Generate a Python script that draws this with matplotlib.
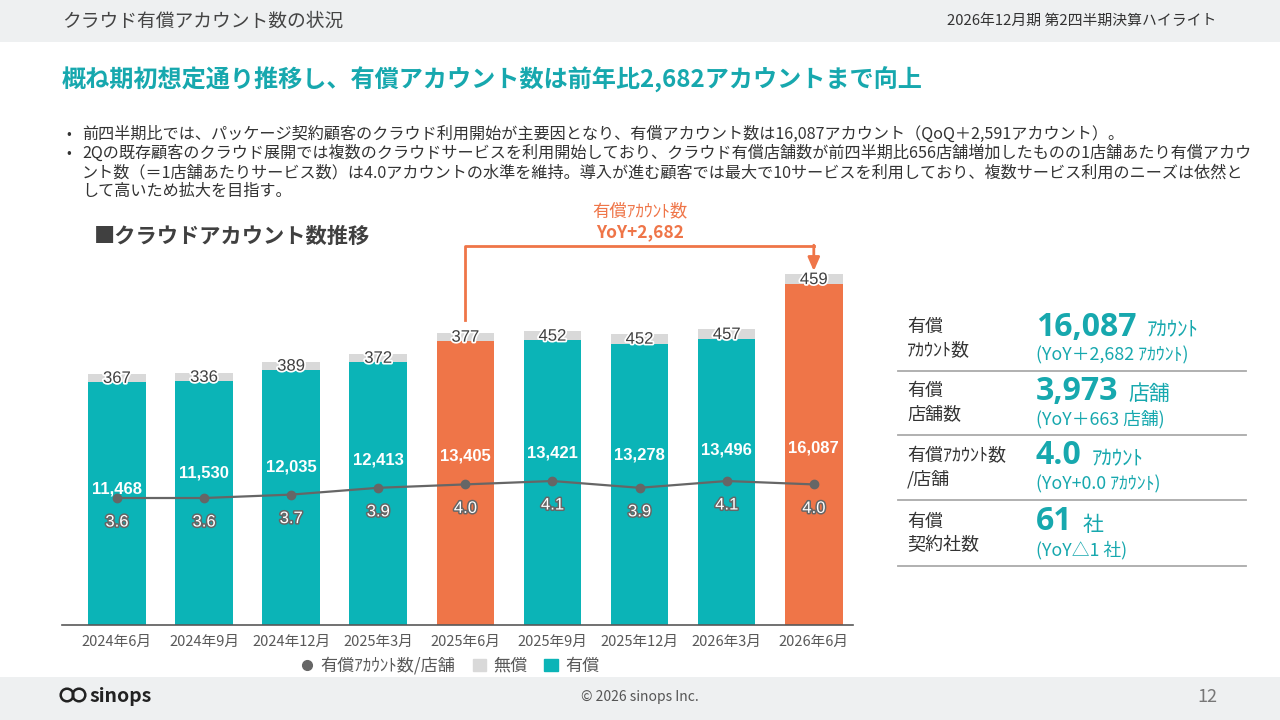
import numpy as np
import matplotlib
matplotlib.use('Agg')
import matplotlib.pyplot as plt
import matplotlib.patheffects as pe
from matplotlib.patches import Rectangle, Circle
from matplotlib.lines import Line2D

plt.rcParams['font.family'] = ['Noto Sans CJK JP', 'DejaVu Sans']

# data
periods = ['2024年6月', '2024年9月', '2024年12月', '2025年3月', '2025年6月',
           '2025年9月', '2025年12月', '2026年3月', '2026年6月']
paid = [11468, 11530, 12035, 12413, 13405, 13421, 13278, 13496, 16087]
free = [367, 336, 389, 372, 377, 452, 452, 457, 459]
per_store = [3.6, 3.6, 3.7, 3.9, 4.0, 4.1, 3.9, 4.1, 4.0]
highlight = [4, 8]
# manual label lift above the line marker (px), as laid out on the slide
paid_lbl_dy = [9, 25, 28, 28, 28, 28, 33, 31, 36]

kpi_labels = [('有償', 'ｱｶｳﾝﾄ数'), ('有償', '店舗数'), ('有償ｱｶｳﾝﾄ数', '/店舗'), ('有償', '契約社数')]
kpi_values = ['16,087', '3,973', '4.0', '61']
kpi_units = ['ｱｶｳﾝﾄ', '店舗', 'ｱｶｳﾝﾄ', '社']
kpi_subs = ['(YoY＋2,682 ｱｶｳﾝﾄ)', '(YoY＋663 店舗)', '(YoY+0.0 ｱｶｳﾝﾄ)', '(YoY△1 社)']

bullets = [
  ['前四半期比では、パッケージ契約顧客のクラウド利用開始が主要因となり、有償アカウント数は16,087アカウント（QoQ＋2,591アカウント）。'],
  ['2Qの既存顧客のクラウド展開では複数のクラウドサービスを利用開始しており、クラウド有償店舗数が前四半期比656店舗増加したものの1店舗あたり有償アカウ',
   'ント数（＝1店舗あたりサービス数）は4.0アカウントの水準を維持。導入が進む顧客では最大で10サービスを利用しており、複数サービス利用のニーズは依然と',
   'して高いため拡大を目指す。'],
]

TEAL = '#0BB4B7'
TEAL_TXT = '#17A8AE'
ORANGE = '#EF7548'
GRAY = '#D9D9D9'
DARK = '#404040'

W, H = 1280, 720
fig = plt.figure(figsize=(12.8, 7.2), dpi=100)

# background layer in pixel coordinates
bg = fig.add_axes([0, 0, 1, 1])
bg.set_xlim(0, W)
bg.set_ylim(H, 0)
bg.axis('off')
bg.add_patch(Rectangle((0, 0), W, 42, color='#EEF0F1', lw=0))
bg.add_patch(Rectangle((0, 677), W, 43, color='#EEF0F1', lw=0))

bg.text(62, 21, 'クラウド有償アカウント数の状況', fontsize=13.5, color='#444444', va='center')
bg.text(1216, 21, '2026年12月期 第2四半期決算ハイライト', fontsize=10.7, color='#333333',
        va='center', ha='right')
bg.text(62, 80, '概ね期初想定通り推移し、有償アカウント数は前年比2,682アカウントまで向上',
        fontsize=17.4, fontweight='bold', color=TEAL_TXT, va='center')

y = 134
for para in bullets:
  bg.text(66, y, '•', fontsize=10, color='#333333', va='center')
  for line in para:
    bg.text(82, y, line, fontsize=11.6, color='#333333', va='center')
    y += 19.3

bg.text(94, 236, '■クラウドアカウント数推移', fontsize=15.3, fontweight='bold', color=DARK, va='center')

# KPI table
row_top = [307, 371, 436, 502]
for i in range(4):
  t = row_top[i]
  bg.text(907, t + 20, kpi_labels[i][0], fontsize=13, color='#333333', va='center')
  bg.text(907, t + 43, kpi_labels[i][1], fontsize=13, color='#333333', va='center')
  big = bg.text(1036, t + 20, kpi_values[i], fontsize=23, fontweight='bold', color=TEAL_TXT,
                va='center', family=['Open Sans', 'DejaVu Sans'])
  fig.canvas.draw()
  bb = big.get_window_extent(fig.canvas.get_renderer())
  bg.text(bb.x1 + 10, t + 23, kpi_units[i], fontsize=15, color=TEAL_TXT, va='center')
  bg.text(1036, t + 48, kpi_subs[i], fontsize=12.8, color=TEAL_TXT, va='center')
  bg.plot([898, 1246], [t + 64, t + 64], color='#AAAAAA', lw=1.3)

# footer
bg.add_patch(Circle((67, 695), 6.3, fill=False, lw=1.8, ec='#222222'))
bg.add_patch(Circle((79, 695), 6.3, fill=False, lw=1.8, ec='#222222'))
bg.text(89, 696, 'sinops', fontsize=14, fontweight='bold', color='#222222', va='center')
bg.text(640, 697, '© 2026 sinops Inc.', fontsize=10, color='#555555', va='center', ha='center')
bg.text(1217, 697, '12', fontsize=13, color='#777777', va='center', ha='right')

# chart
ax = fig.add_axes([62 / W, 1 - 625 / H, (853 - 62) / W, (625 - 215) / H])
ax.patch.set_alpha(0)
x = np.arange(len(periods))
colors = [ORANGE if i in highlight else TEAL for i in x]
bar_w = 0.66
bars_paid = ax.bar(x, paid, bar_w, color=colors, zorder=2)
bars_free = ax.bar(x, free, bar_w, bottom=paid, color=GRAY, zorder=2)
ax.set_xlim(-0.63, 8.45)
ax.set_ylim(0, 410 / 0.0212)
ax.set_yticks([])
for s in ['top', 'right', 'left']:
  ax.spines[s].set_visible(False)
ax.spines['bottom'].set_color('#595959')
ax.spines['bottom'].set_linewidth(1.2)
ax.set_xticks(x)
ax.set_xticklabels(periods, fontsize=10.5, color='#595959')
ax.tick_params(axis='x', length=0, pad=7)

stroke_w = [pe.withStroke(linewidth=2.5, foreground='white')]
for i in x:
  ax.text(i, paid[i] + free[i] * 0.45, f'{free[i]}', ha='center', va='center', fontsize=12,
          color=DARK, family=['Liberation Sans', 'DejaVu Sans'], path_effects=stroke_w, zorder=4)

ax2 = ax.twinx()
ax2.set_ylim(-0.135, -0.135 + 410 / 34)
ax2.axis('off')
ax2.plot(x, per_store, color='#666666', lw=1.6, marker='o', ms=6, zorder=3)
stroke_g = [pe.withStroke(linewidth=2.2, foreground='#666666')]
for i in x:
  ax2.annotate(f'{paid[i]:,}', (i, per_store[i]), xytext=(0, paid_lbl_dy[i] * 0.72),
               textcoords='offset points', ha='center', va='center', fontsize=12,
               fontweight='bold', color='white', family=['Liberation Sans', 'DejaVu Sans'])
  ax2.annotate(f'{per_store[i]:.1f}', (i, per_store[i]), xytext=(0, -24 * 0.72),
               textcoords='offset points', ha='center', va='center', fontsize=12,
               color='white', family=['Liberation Sans', 'DejaVu Sans'],
               path_effects=stroke_g)

# YoY arrow
tot = [p + f for p, f in zip(paid, free)]
y_lvl = max(tot) * 1.08
a, b = highlight
ax.plot([a, a, b], [tot[a] + 600, y_lvl, y_lvl], color=ORANGE, lw=2, zorder=3, clip_on=False)
ax.annotate('', xy=(b, tot[b] + 150), xytext=(b, y_lvl + 45),
            arrowprops=dict(arrowstyle='-|>,head_width=0.35,head_length=0.8', color=ORANGE, lw=2,
                            shrinkA=0, shrinkB=0))
mid = (a + b) / 2
ax.annotate('有償ｱｶｳﾝﾄ数', (mid, y_lvl), xytext=(0, 35 * 0.72), textcoords='offset points',
            ha='center', va='center', fontsize=12.5, color=ORANGE, annotation_clip=False)
ax.annotate('YoY+2,682', (mid, y_lvl), xytext=(0, 14 * 0.72), textcoords='offset points',
            ha='center', va='center', fontsize=12.5, fontweight='bold', color=ORANGE,
            annotation_clip=False)

handles = [Line2D([], [], color='#666666', marker='o', ls='none', ms=7),
           Rectangle((0, 0), 1, 1, color=GRAY), Rectangle((0, 0), 1, 1, color=TEAL)]
ax.legend(handles, ['有償ｱｶｳﾝﾄ数/店舗', '無償', '有償'], loc='upper center',
          bbox_to_anchor=(0.49, -0.04), ncol=3, frameon=False, fontsize=12.3,
          handlelength=0.8, handletextpad=0.4, columnspacing=1.0, labelcolor='#595959')

fig.savefig('out.png', dpi=100)
